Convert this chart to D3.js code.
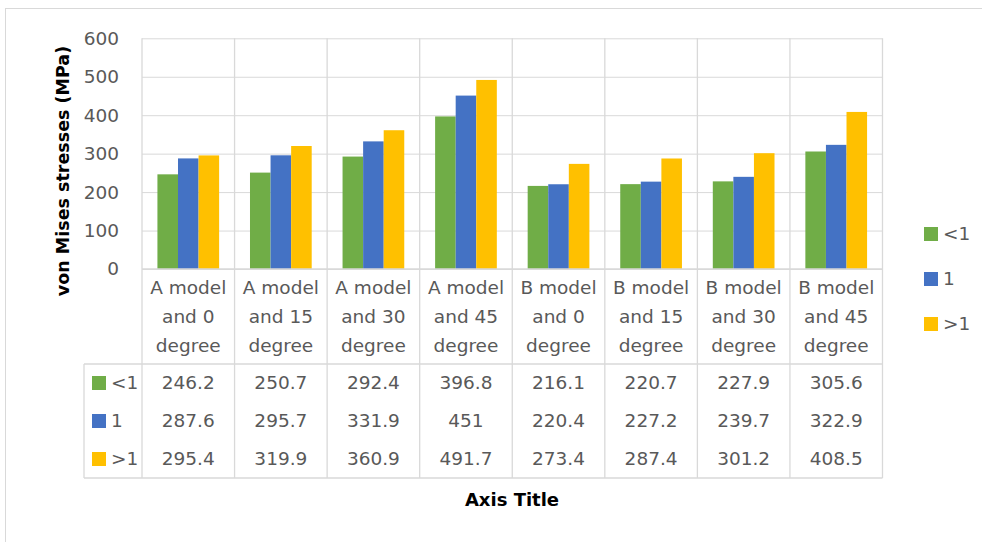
<!DOCTYPE html>
<html><head><meta charset="utf-8">
<script src="https://cdn.jsdelivr.net/npm/d3@7"></script>
<style>body{margin:0;background:#fff} svg text{font-family:"DejaVu Sans",sans-serif}</style>
</head><body><svg id="c" width="982" height="542"></svg>
<script>
const categories = ["A model and 0 degree","A model and 15 degree","A model and 30 degree","A model and 45 degree",
  "B model and 0 degree","B model and 15 degree","B model and 30 degree","B model and 45 degree"];
const seriesNames = ["<1","1",">1"];
const valuesLt1 = [246.2,250.7,292.4,396.8,216.1,220.7,227.9,305.6];
const values1   = [287.6,295.7,331.9,451,220.4,227.2,239.7,322.9];
const valuesGt1 = [295.4,319.9,360.9,491.7,273.4,287.4,301.2,408.5];
const yTicks = [0,100,200,300,400,500,600];
const colors = ["#70AD47","#4472C4","#FFC000"];
const yTitle = "von Mises stresses (MPa)";
const xTitle = "Axis Title";

const series = [valuesLt1, values1, valuesGt1];
const svg = d3.select("#c");
const L = 142, R = 882.5, T = 38.3, B = 269;
const headerBottom = 364, rowH = 38, tableLeft = 84, tableBottom = headerBottom + rowH*3;
const grid = "#d9d9d9", txt = "#595959";
const fs = 18.5;
const ff = "'DejaVu Sans',sans-serif";

// chart border
svg.append("rect").attr("x",5.5).attr("y",8.5).attr("width",1200).attr("height",800)
  .attr("fill","none").attr("stroke",grid);

const x = d3.scaleBand().domain(categories).range([L,R]);
const xs = d3.scaleBand().domain(seriesNames).range([0,x.bandwidth()]).paddingOuter(0.75);
const y = d3.scaleLinear().domain([0,600]).range([B,T]);

// gridlines + y tick labels
const gAxis = svg.append("g").attr("transform",`translate(${L},0)`)
  .call(d3.axisLeft(y).tickValues(yTicks).tickSize(-(R-L)).tickPadding(23).tickFormat(d3.format("d")));
gAxis.select(".domain").remove();
gAxis.selectAll(".tick line").attr("stroke",grid);
gAxis.selectAll(".tick text").attr("fill",txt).style("font-size",fs+"px").style("font-family",ff);

// bars
series.forEach((vals,si)=>{
  svg.append("g").selectAll("rect").data(vals).join("rect")
    .attr("x",(d,i)=>x(categories[i])+xs(seriesNames[si]))
    .attr("width",xs.bandwidth())
    .attr("y",d=>y(d)).attr("height",d=>B-y(d))
    .attr("fill",colors[si]);
});

// table lines
const lines = svg.append("g").attr("stroke",grid).attr("stroke-width",1.3);
const xb = categories.map(c=>x(c)).concat([R]);
xb.forEach(v=>lines.append("line").attr("x1",v).attr("x2",v).attr("y1",T).attr("y2",tableBottom));
lines.append("line").attr("x1",L).attr("x2",R).attr("y1",B).attr("y2",B);
lines.append("line").attr("x1",tableLeft).attr("x2",R).attr("y1",headerBottom).attr("y2",headerBottom);
lines.append("line").attr("x1",tableLeft).attr("x2",R).attr("y1",tableBottom).attr("y2",tableBottom);
lines.append("line").attr("x1",tableLeft).attr("x2",tableLeft).attr("y1",headerBottom).attr("y2",tableBottom);

// category header text
categories.forEach(c=>{
  const w = c.split(" ");
  const ls = [w[0]+" "+w[1], w[2]+" "+w[3], w[4]];
  ls.forEach((l,k)=>{
    svg.append("text").attr("x",x(c)+x.bandwidth()/2).attr("y",288+k*29).attr("dy","0.35em")
      .attr("text-anchor","middle").attr("fill",txt).style("font-size",fs+"px").text(l);
  });
});

// data rows
series.forEach((vals,si)=>{
  const cy = headerBottom + rowH*si + rowH/2;
  svg.append("rect").attr("x",92).attr("y",cy-7).attr("width",14).attr("height",14).attr("fill",colors[si]);
  svg.append("text").attr("x",111).attr("y",cy).attr("dy","0.35em").attr("fill",txt)
    .style("font-size",fs+"px").text(seriesNames[si]);
  svg.append("g").selectAll("text").data(vals).join("text")
    .attr("x",(d,i)=>x(categories[i])+x.bandwidth()/2).attr("y",cy).attr("dy","0.35em")
    .attr("text-anchor","middle").attr("fill",txt).style("font-size",fs+"px").text(d=>d);
});

// legend
seriesNames.forEach((s,si)=>{
  const cy = 234 + si*45;
  svg.append("rect").attr("x",924).attr("y",cy-7).attr("width",14).attr("height",14).attr("fill",colors[si]);
  svg.append("text").attr("x",943).attr("y",cy).attr("dy","0.35em").attr("fill",txt)
    .style("font-size",fs+"px").text(s);
});

// titles
svg.append("text").attr("transform","translate(63,171) rotate(-90)").attr("text-anchor","middle")
  .attr("dy","0.35em").style("font-size","17.5px").style("font-weight","bold").attr("fill","#000").text(yTitle);
svg.append("text").attr("x",512).attr("y",500).attr("text-anchor","middle").attr("dy","0.35em")
  .style("font-size","18px").style("font-weight","bold").attr("fill","#000").text(xTitle);
</script></body></html>
